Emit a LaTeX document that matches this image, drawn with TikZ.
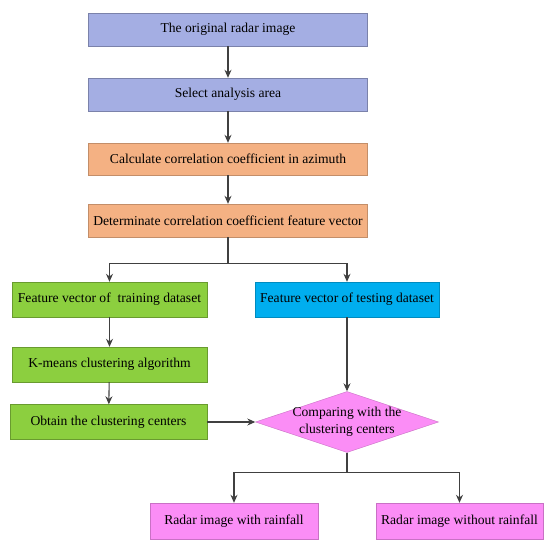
\documentclass[tikz,border=0pt]{standalone}
\usepackage{fontspec}
\setmainfont{Liberation Serif}
\usepackage{xcolor}
\usepackage{tikz}
\usetikzlibrary{shapes.geometric, arrows.meta, positioning}
\definecolor{lavender}{HTML}{A4AEE3}
\definecolor{peach}{HTML}{F4B183}
\definecolor{leaf}{HTML}{8CCF3F}
\definecolor{sky}{HTML}{00AEEF}
\definecolor{orchid}{HTML}{FB8DF6}
\definecolor{linegray}{HTML}{404040}
\tikzstyle{box} = [rectangle, minimum height=33pt, text centered, inner sep=0pt, font=\fontsize{13.6}{15}\selectfont]
\tikzstyle{input} = [box, minimum width=279pt, draw=lavender!75!black, fill=lavender]
\tikzstyle{process} = [box, minimum width=279pt, draw=peach!80!black, fill=peach]
\tikzstyle{train} = [box, minimum height=35pt, draw=leaf!75!black, fill=leaf]
\tikzstyle{test} = [box, minimum height=35pt, minimum width=184pt, draw=sky!80!black, fill=sky]
\tikzstyle{decision} = [diamond, minimum width=183pt, minimum height=61pt, inner sep=0pt, draw=orchid!80!black, fill=orchid]
\tikzstyle{result} = [box, minimum height=36pt, draw=orchid!80!black, fill=orchid]
\tikzstyle{arrow} = [draw=linegray, line width=1.1pt, -{Stealth[length=8pt, width=7pt]}]

\begin{document}
\begin{tikzpicture}[x=1pt, y=-1pt, node distance=65pt]
\useasboundingbox (0,0) rectangle (550,546);

\node (orig) [input] at (228,29.5) {The original radar image};
\node (area) [input, below of=orig] {Select analysis area};
\node (corr) [process, minimum height=32pt, below of=area, node distance=64.5pt] {Calculate correlation coefficient in azimuth};
\node (vec) [process, below of=corr, node distance=61.5pt] {Determinate correlation coefficient feature vector};
\node (trainvec) [train, minimum width=195pt] at (109.5,299.5) {Feature vector of\ \ training dataset};
\node (testvec) [test] at (347,299.5) {Feature vector of testing dataset};
\node (kmeans) [train, minimum width=195pt, below of=trainvec] {K-means clustering algorithm};
\node (centers) [train, minimum width=197pt] at (108.5,422) {Obtain the clustering centers};
\node (compare) [decision, label={[align=center, font=\fontsize{13.6}{17}\selectfont]center:Comparing with the\\clustering centers}] at (347,422) {};
\node (rain) [result, minimum width=168pt] at (234,521) {Radar image with rainfall};
\node (norain) [result, minimum width=167pt] at (459.5,521) {Radar image without rainfall};

\draw [arrow] (orig) -- (area);
\draw [arrow] (area) -- (corr);
\draw [arrow] (corr) -- (vec);
\draw [arrow] (vec.south) -- ++(0,26) -| (trainvec.north);
\draw [arrow] (vec.south) -- ++(0,26) -| (testvec.north);
\draw [arrow] (trainvec) -- (kmeans);
\draw [arrow] (kmeans) -- (centers);
\draw [arrow] (testvec) -- (compare);
\draw [arrow] (centers) -- (compare);
\draw [arrow] (compare.south) -- ++(0,20) -| (rain.north);
\draw [arrow] (compare.south) -- ++(0,20) -| (norain.north);

\end{tikzpicture}
\end{document}
